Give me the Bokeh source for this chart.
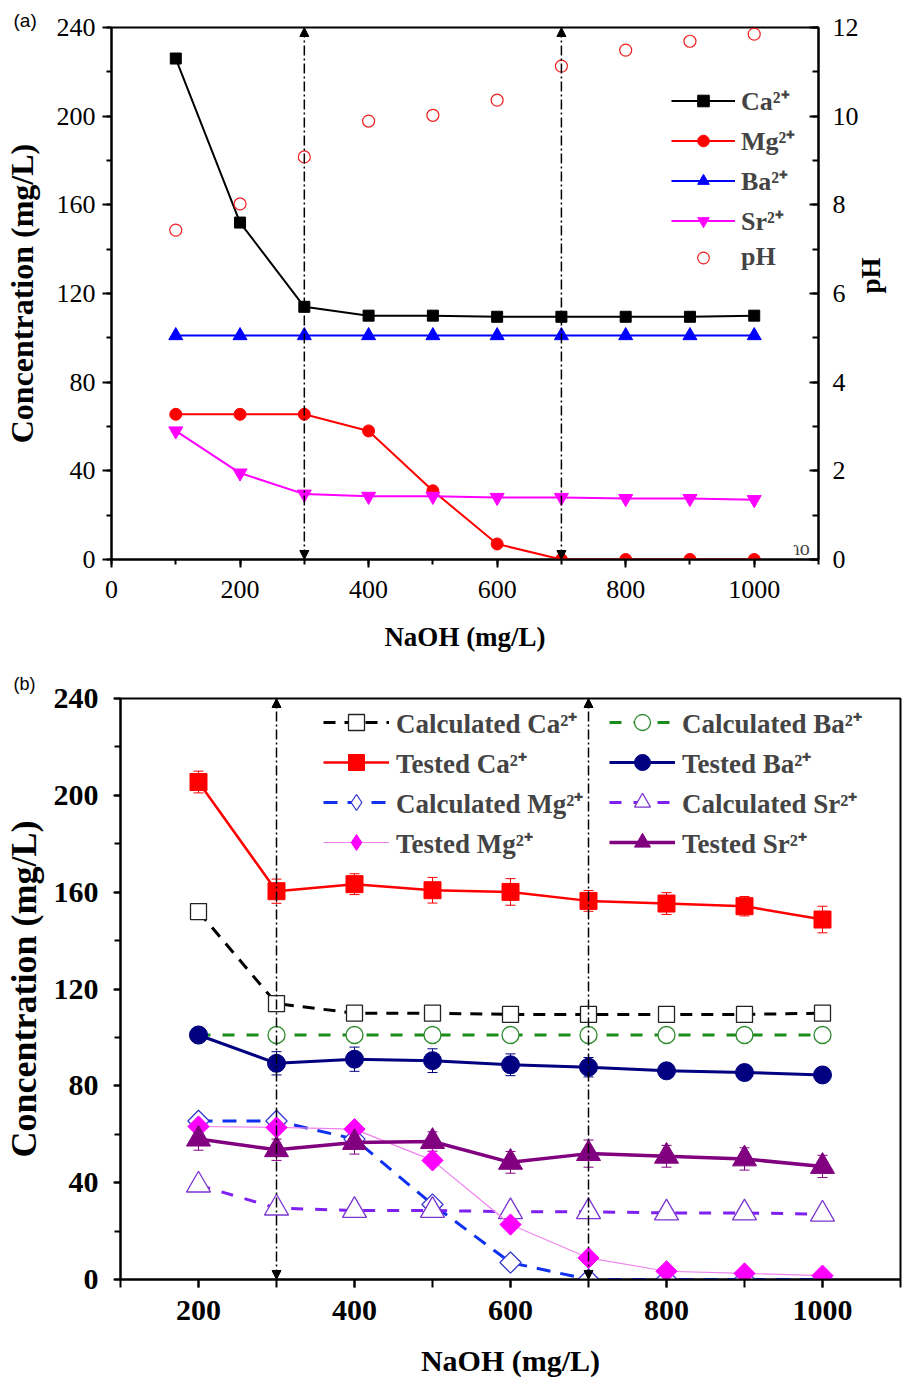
import numpy as np
from bokeh.plotting import figure
from bokeh.models import (ColumnDataSource, Range1d, LinearAxis, Legend, LegendItem, Label,
                          Arrow, NormalHead, Whisker, TeeHead, SingleIntervalTicker)
from bokeh.embed import file_html
from bokeh.resources import INLINE

# ---------------- Panel (a) data ----------------
naoh_a = [100, 200, 300, 400, 500, 600, 700, 800, 900, 1000]
ca_a = [226, 152, 114, 110, 110, 109.5, 109.5, 109.5, 109.5, 110]
mg_a = [65.5, 65.5, 65.5, 58, 31, 7, 0, 0, 0, 0]
ba_a = [101, 101, 101, 101, 101, 101, 101, 101, 101, 101]
sr_a = [58, 39, 29.5, 28.5, 28.5, 28, 28, 27.5, 27.5, 27]
ph_a = [7.43, 8.02, 9.08, 9.89, 10.02, 10.36, 11.13, 11.49, 11.69, 11.85]
arrow_x = [300, 700]
arrow_y0 = [0, 0]
arrow_y1 = [240, 240]

# ---------------- Panel (b) data ----------------
naoh_b = [200, 300, 400, 500, 600, 700, 800, 900, 1000]
calc_ca = [152, 114, 110, 110, 109.5, 109.5, 109.5, 109.5, 110]
tested_ca = [205.5, 160.4, 163.3, 160.8, 160.1, 156.4, 155.3, 154.2, 148.7]
tested_ca_err = [4.5, 5.0, 4.3, 5.3, 5.5, 4.3, 4.5, 4.0, 5.5]
calc_mg = [65.5, 65.5, 58, 31, 7, 0, 0, 0, 0]
tested_mg = [63.2, 62.8, 62.1, 49.2, 22.7, 8.9, 3.4, 2.5, 1.6]
calc_ba = [101, 101, 101, 101, 101, 101, 101, 101, 101]
tested_ba = [101, 89.3, 91.0, 90.4, 88.7, 87.7, 86.2, 85.5, 84.5]
tested_ba_err = [0, 4.8, 5.0, 4.9, 4.5, 4.0, 2.0, 3.0, 3.0]
calc_sr = [39, 29.5, 28.5, 28.5, 28, 28, 27.5, 27.5, 27]
tested_sr = [58, 53.6, 56.6, 57, 48.4, 52, 50.9, 49.8, 46.7]
tested_sr_err = [4.6, 4.4, 4.8, 4.0, 4.5, 5.6, 4.5, 4.6, 4.6]

SERIF = "Liberation Serif"
SANS = "Liberation Sans"


def style_axis(ax, font_size, bold, tick_out, tick_in, minor_out, minor_in, standoff):
    ax.axis_line_width = 2
    ax.axis_line_color = "black"
    ax.major_tick_line_width = 2
    ax.minor_tick_line_width = 2
    ax.major_tick_out = tick_out
    ax.major_tick_in = tick_in
    ax.minor_tick_out = minor_out
    ax.minor_tick_in = minor_in
    ax.major_label_text_font = SERIF
    ax.major_label_text_font_size = font_size
    ax.major_label_text_font_style = "bold" if bold else "normal"
    ax.major_label_text_color = "black"
    ax.major_label_standoff = standoff
    ax.axis_label_text_font = SERIF
    ax.axis_label_text_font_style = "bold"
    ax.axis_label_text_color = "black"


def add_arrows(p):
    src = ColumnDataSource(dict(x=arrow_x, y0=arrow_y0, y1=arrow_y1))
    p.add_layout(Arrow(source=src, x_start="x", y_start="y0", x_end="x", y_end="y1",
                       start=NormalHead(size=9, fill_color="black", line_color="black"),
                       end=NormalHead(size=9, fill_color="black", line_color="black"),
                       line_dash="10 3 2 3", line_width=1.5, line_color="black"))


def style_title(p, text, offset, standoff, size):
    p.title.text = text
    p.title.align = "left"
    p.title.offset = offset
    p.title.standoff = standoff
    p.title.text_font = SANS
    p.title.text_font_style = "normal"
    p.title.text_font_size = size
    p.title.text_color = "black"


# ======================= Panel (a) =======================
pa = figure(width=903, height=654, x_range=Range1d(0, 1100), y_range=Range1d(0, 240),
            output_backend="svg", toolbar_location=None,
            min_border_left=110, min_border_right=81, min_border_top=27, min_border_bottom=94)
pa.extra_y_ranges = {"ph": Range1d(0, 12)}
pa.xgrid.visible = False
pa.ygrid.visible = False
pa.outline_line_color = "black"
pa.outline_line_width = 2
style_title(pa, "(a)", -98, -6, "19px")

pa.xaxis.ticker = SingleIntervalTicker(interval=200, num_minor_ticks=2)
pa.yaxis.ticker = SingleIntervalTicker(interval=40, num_minor_ticks=2)
style_axis(pa.xaxis[0], "26px", False, 8, 0, 5, 0, 13)
style_axis(pa.yaxis[0], "26px", False, 9, 0, 5, 0, 7)
pa.xaxis.axis_label = "NaOH (mg/L)"
pa.xaxis.axis_label_text_font_size = "27px"
pa.xaxis.axis_label_standoff = 21
pa.yaxis.axis_label = "Concentration (mg/L)"
pa.yaxis.axis_label_text_font_size = "32px"
pa.yaxis.axis_label_standoff = 14

ax_ph = LinearAxis(y_range_name="ph", ticker=SingleIntervalTicker(interval=2, num_minor_ticks=2))
style_axis(ax_ph, "26px", False, 0, 9, 0, 6, 14)
ax_ph.axis_label = "pH"
ax_ph.axis_label_text_font_size = "27px"
ax_ph.axis_label_standoff = 9
try:
    ax_ph.axis_label_orientation = np.pi / 2
except Exception:
    pass
pa.add_layout(ax_ph, "right")

l_ca = pa.line(naoh_a, ca_a, line_color="black", line_width=2)
s_ca = pa.scatter(naoh_a, ca_a, marker="square", size=11, fill_color="black", line_color="black")
l_mg = pa.line(naoh_a, mg_a, line_color="#FF0000", line_width=2)
s_mg = pa.scatter(naoh_a, mg_a, marker="circle", size=12, fill_color="#FF0000", line_color="#FF0000")
l_ba = pa.line(naoh_a, ba_a, line_color="#0000FF", line_width=2)
s_ba = pa.scatter(naoh_a, ba_a, marker="triangle", size=14, fill_color="#0000FF", line_color="#0000FF")
l_sr = pa.line(naoh_a, sr_a, line_color="#FF00FF", line_width=2)
s_sr = pa.scatter(naoh_a, sr_a, marker="inverted_triangle", size=14, fill_color="#FF00FF", line_color="#FF00FF")
s_ph = pa.scatter(naoh_a, ph_a, y_range_name="ph", marker="circle", size=12,
                  fill_color=None, line_color="#EE2020", line_width=1.2)
add_arrows(pa)

leg_a = Legend(items=[
    LegendItem(label="Ca²⁺", renderers=[l_ca, s_ca]),
    LegendItem(label="Mg²⁺", renderers=[l_mg, s_mg]),
    LegendItem(label="Ba²⁺", renderers=[l_ba, s_ba]),
    LegendItem(label="Sr²⁺", renderers=[l_sr, s_sr]),
    LegendItem(label="pH", renderers=[s_ph]),
], location=(560, 287), glyph_width=64, glyph_height=29, label_height=29, spacing=4,
    padding=0, margin=0, border_line_color=None, background_fill_alpha=0,
    label_text_font=SERIF, label_text_font_style="bold", label_text_font_size="26px",
    label_standoff=6)
pa.add_layout(leg_a)

pa.add_layout(Label(x=690, y=12, x_units="screen", y_units="screen", text="ɿo",
                    text_font=SERIF, text_font_size="20px", text_baseline="middle", text_align="center"))

# ======================= Panel (b) =======================
pb = figure(width=903, height=725, x_range=Range1d(100, 1100), y_range=Range1d(0, 240),
            output_backend="svg", toolbar_location=None,
            min_border_left=119, min_border_right=3, min_border_top=44, min_border_bottom=99)
pb.xgrid.visible = False
pb.ygrid.visible = False
pb.outline_line_color = "black"
pb.outline_line_width = 2
style_title(pb, "(b)", -107, 10, "18px")

pb.xaxis.ticker = SingleIntervalTicker(interval=200, num_minor_ticks=2)
pb.yaxis.ticker = SingleIntervalTicker(interval=40, num_minor_ticks=2)
style_axis(pb.xaxis[0], "30px", True, 8, 0, 8, 0, 13)
style_axis(pb.yaxis[0], "30px", True, 7, 0, 6, 0, 15)
pb.xaxis.axis_label = "NaOH (mg/L)"
pb.xaxis.axis_label_text_font_size = "30px"
pb.xaxis.axis_label_standoff = 21
pb.yaxis.axis_label = "Concentration (mg/L)"
pb.yaxis.axis_label_text_font_size = "36px"
pb.yaxis.axis_label_standoff = 7

# calculated (dashed, open markers)
lc_ca = pb.line(naoh_b, calc_ca, line_color="black", line_width=3, line_dash="12 9")
sc_ca = pb.scatter(naoh_b, calc_ca, marker="square", size=16, fill_color="white", line_color="#222222", line_width=1.3)
lc_ba = pb.line(naoh_b, calc_ba, line_color="#1A8A1A", line_width=3, line_dash="12 12")
sc_ba = pb.scatter(naoh_b, calc_ba, marker="circle", size=17, fill_color="white", line_color="#2E8B2E", line_width=1.3)
lc_mg = pb.line(naoh_b, calc_mg, line_color="#1030F0", line_width=3, line_dash="14 10")
sc_mg = pb.scatter(naoh_b, calc_mg, marker="square", angle=np.pi / 4, size=15, fill_color="white",
                   line_color="#3838D0", line_width=1.3)
lc_sr = pb.line(naoh_b, calc_sr, line_color="#8020F0", line_width=3, line_dash="12 12")
sc_sr = pb.scatter(naoh_b, calc_sr, marker="triangle", size=24, fill_color="white", line_color="#7A35D0", line_width=1.3)

# tested (solid, filled markers, error bars)
lt_mg = pb.line(naoh_b, tested_mg, line_color="#EE82EE", line_width=1.2)
st_mg = pb.scatter(naoh_b, tested_mg, marker="square", angle=np.pi / 4, size=15,
                   fill_color="#FF00FF", line_color="#FF00FF")

# zero-size diamond renderers: they only provide the diamond swatch in the legend
key_calc_mg = pb.scatter(naoh_b, calc_mg, marker="diamond", size=0, fill_color="white",
                         line_color="#3838D0", line_width=1.3)
key_test_mg = pb.scatter(naoh_b, tested_mg, marker="diamond", size=0, fill_color="#FF00FF",
                         line_color="#FF00FF")


def tested(vals, errs, color, marker, size, lw):
    src = ColumnDataSource(dict(x=naoh_b, y=vals,
                                upper=np.array(vals) + np.array(errs),
                                lower=np.array(vals) - np.array(errs)))
    pb.add_layout(Whisker(source=src, base="x", upper="upper", lower="lower", dimension="height",
                          line_color=color, line_width=1,
                          upper_head=TeeHead(size=10, line_color=color, line_width=1),
                          lower_head=TeeHead(size=10, line_color=color, line_width=1)))
    ln = pb.line("x", "y", source=src, line_color=color, line_width=lw)
    sc = pb.scatter("x", "y", source=src, marker=marker, size=size, fill_color=color, line_color=color)
    return ln, sc


lt_ca, st_ca = tested(tested_ca, tested_ca_err, "#FF0000", "square", 17, 2.5)
lt_ba, st_ba = tested(tested_ba, tested_ba_err, "#000080", "circle", 18, 3)
lt_sr, st_sr = tested(tested_sr, tested_sr_err, "#800080", "triangle", 24, 3.5)
add_arrows(pb)

common = dict(glyph_width=66, glyph_height=40, label_height=40, spacing=0, padding=0, margin=0,
              border_line_color=None, background_fill_alpha=0, label_text_font=SERIF,
              label_text_font_style="bold", label_text_font_size="27px", label_standoff=7)
leg_b1 = Legend(items=[
    LegendItem(label="Calculated Ca²⁺", renderers=[lc_ca, sc_ca]),
    LegendItem(label="Tested Ca²⁺", renderers=[lt_ca, st_ca]),
    LegendItem(label="Calculated Mg²⁺", renderers=[lc_mg, key_calc_mg]),
    LegendItem(label="Tested Mg²⁺", renderers=[lt_mg, key_test_mg]),
], location=(203, 417), **common)
leg_b2 = Legend(items=[
    LegendItem(label="Calculated Ba²⁺", renderers=[lc_ba, sc_ba]),
    LegendItem(label="Tested Ba²⁺", renderers=[lt_ba, st_ba]),
    LegendItem(label="Calculated Sr²⁺", renderers=[lc_sr, sc_sr]),
    LegendItem(label="Tested Sr²⁺", renderers=[lt_sr, st_sr]),
], location=(489, 417), **common)
pb.add_layout(leg_b1)
pb.add_layout(leg_b2)

open("out.html", "w").write(file_html([pa, pb], INLINE))
